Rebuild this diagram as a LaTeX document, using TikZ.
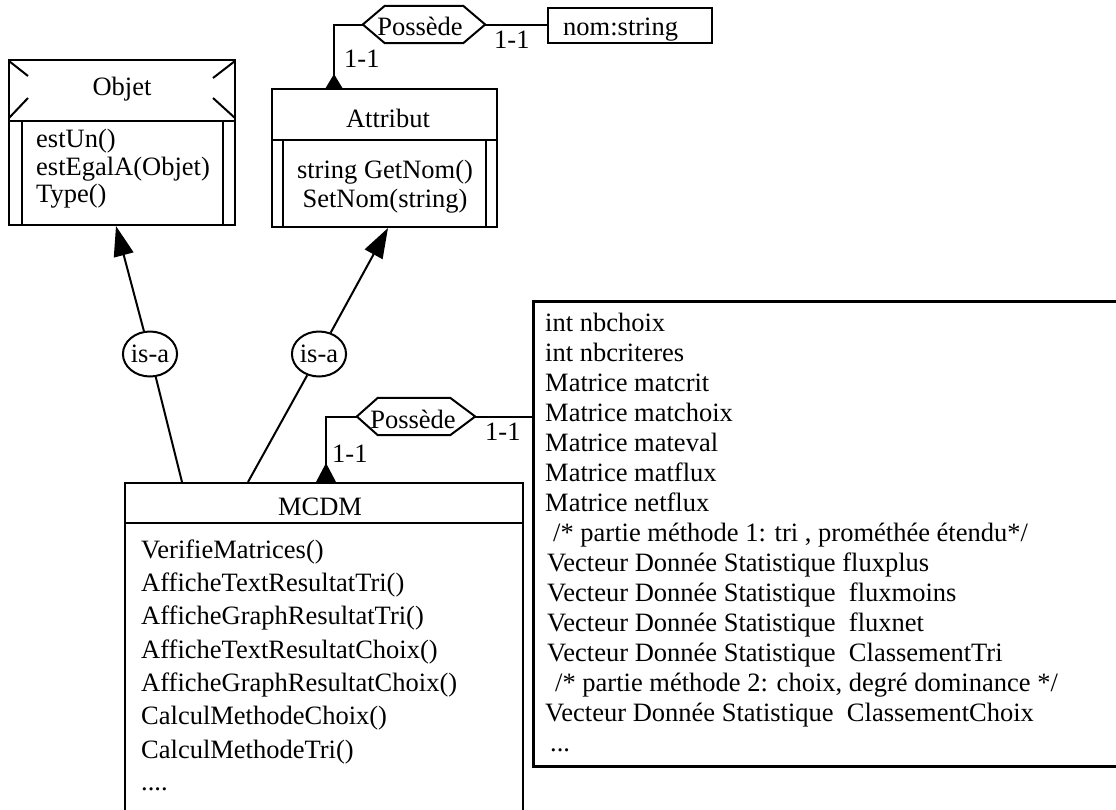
\documentclass[tikz,border=0pt]{standalone}
\usepackage{fontspec}
\setmainfont{Liberation Serif}
\usetikzlibrary{arrows.meta,shapes.geometric,calc}
\begin{document}
\begin{tikzpicture}[x=1pt,y=-1pt,
  font=\fontsize{26.5}{30}\selectfont,
  cls/.style={draw, line width=2.5pt, inner sep=0pt, rectangle},
  conn/.style={line width=2pt},
  isaarrow/.style={line width=2pt, -{Triangle[length=30pt,width=20pt]}},
  txt/.style={inner sep=0pt, anchor=base},
  txtl/.style={inner sep=0pt, anchor=base west},
  isa/.style={ellipse, draw, line width=2pt, fill=white, minimum width=52pt, minimum height=45pt, inner sep=0pt},
  hexbox/.style={inner sep=0pt, minimum width=#1, minimum height=37pt},
]
\useasboundingbox (0,0) rectangle (1116,809);
\clip (0,0) rectangle (1116,809);

% ---------- Objet ----------
\node[cls, minimum width=226pt, minimum height=165pt] (objet) at (122,142.5) {};
\draw[line width=2.5pt] (9,121) -- (235,121);
\draw[line width=2.5pt] (22,121) -- (22,225);
\draw[line width=2.5pt] (223,121) -- (223,225);
\draw[conn] (9,61) -- (28,76);
\draw[conn] (9,118) -- (28,98);
\draw[conn] (235,61) -- (213,78);
\draw[conn] (235,118) -- (213,98);
\node[txt] (objT) at (122,95) {Objet};
\node[txtl] (o1) at (36,147) {estUn()};
\node[txtl] (o2) at (36,175) {estEgalA(Objet)};
\node[txtl] (o3) at (36,202) {Type()};

% ---------- Attribut ----------
\node[cls, minimum width=225pt, minimum height=138pt] (attr) at (384.5,158) {};
\draw[line width=2.5pt] (272,140) -- (497,140);
\draw[line width=2.5pt] (283,140) -- (283,227);
\draw[line width=2.5pt] (486,140) -- (486,227);
\node[txt] (attrT) at (388,127) {Attribut};
\node[txt] (a1) at (385,178) {string GetNom()};
\node[txt] (a2) at (385,207) {SetNom(string)};

% ---------- nom:string ----------
\node[cls, minimum width=164pt, minimum height=35pt] (nom) at (630,25.5) {};
\node[txtl] (nomT) at (563,35) {nom:string};

% ---------- Possède (haut) ----------
\node[hexbox=122pt] (pos1) at (424,24.5) {};
\draw[conn] (pos1.west) -- ([xshift=22pt]pos1.north west) -- ([xshift=-22pt]pos1.north east)
  -- (pos1.east) -- ([xshift=-22pt]pos1.south east) -- ([xshift=22pt]pos1.south west) -- cycle;
\node[txt] (pos1T) at (420,35) {Possède};
\coordinate (attrP) at (334,89);
\draw[conn] (pos1.west) -| (attrP);
\fill (attrP) ++(-9,0) -- ++(9,-15) -- ++(9,15) -- cycle;
\draw[conn] (pos1.east) -- (pos1.east -| nom.west);
\node[txtl] (c1) at (344,67) {1-1};
\node[txtl] (c2) at (494,48) {1-1};

% ---------- MCDM ----------
\node[cls, minimum width=398pt, minimum height=357pt] (mcdm) at (324,661.5) {};
\draw[line width=2.5pt] (125,523) -- (523,523);
\node[txt] (mcdmT) at (320,515) {MCDM};
\node[txtl] (m1) at (141,558) {VerifieMatrices()};
\node[txtl] (m2) at (141,591.3) {AfficheTextResultatTri()};
\node[txtl] (m3) at (141,624.6) {AfficheGraphResultatTri()};
\node[txtl] (m4) at (141,658) {AfficheTextResultatChoix()};
\node[txtl] (m5) at (141,691.3) {AfficheGraphResultatChoix()};
\node[txtl] (m6) at (141,724.6) {CalculMethodeChoix()};
\node[txtl] (m7) at (141,758) {CalculMethodeTri()};
\node[txtl] (m8) at (141,790) {....};

% ---------- is-a ----------
\coordinate (mcdmA) at (182,482);
\coordinate (objIn) at (116,226);
\coordinate (mcdmB) at (248,482);
\coordinate (attrIn) at (388,228);
\node[isa] (isa1) at (150,354) {is-a};
\node[isa] (isa2) at (319,354) {is-a};
\draw[conn] (mcdmA) -- (isa1);
\draw[isaarrow] (isa1) -- (objIn);
\draw[conn] (mcdmB) -- (isa2);
\draw[isaarrow] (isa2) -- (attrIn);

% ---------- grande boite ----------
\node[cls, line width=3pt, minimum width=607pt, minimum height=465pt] (data) at (836.5,533.5) {};
\node[txtl] (d1) at (545,331) {int nbchoix};
\node[txtl] (d2) at (545,361) {int nbcriteres};
\node[txtl] (d3) at (545,391) {Matrice matcrit};
\node[txtl] (d4) at (545,421) {Matrice matchoix};
\node[txtl] (d5) at (545,451) {Matrice mateval};
\node[txtl] (d6) at (545,481) {Matrice matflux};
\node[txtl] (d7) at (545,511) {Matrice netflux};
\node[txtl] (d8) at (553,541) {/* partie méthode 1: tri , prométhée étendu*/};
\node[txtl] (d9) at (547,571) {Vecteur Donnée Statistique fluxplus};
\node[txtl] (d10) at (547,601) {Vecteur Donnée Statistique\ \ fluxmoins};
\node[txtl] (d11) at (547,631) {Vecteur Donnée Statistique\ \ fluxnet};
\node[txtl] (d12) at (547,661) {Vecteur Donnée Statistique\ \ ClassementTri};
\node[txtl] (d13) at (555,691) {/* partie méthode 2: choix, degré dominance */};
\node[txtl] (d14) at (545,721) {Vecteur Donnée Statistique\ \ ClassementChoix};
\node[txtl] (d15) at (550,751) {...};

% ---------- Possède (bas) ----------
\node[hexbox=118pt] (pos2) at (416,416.5) {};
\draw[conn] (pos2.west) -- ([xshift=21pt]pos2.north west) -- ([xshift=-25pt]pos2.north east)
  -- (pos2.east) -- ([xshift=-25pt]pos2.south east) -- ([xshift=21pt]pos2.south west) -- cycle;
\node[txt] (pos2T) at (413,428) {Possède};
\coordinate (mcdmP) at (326,482);
\draw[conn] (pos2.west) -| (mcdmP);
\fill (mcdmP) ++(-10,0) -- ++(10,-19) -- ++(10,19) -- cycle;
\draw[conn] (pos2.east) -- (pos2.east -| data.west);
\node[txtl] (c3) at (332,462) {1-1};
\node[txtl] (c4) at (485,440) {1-1};
\end{tikzpicture}
\end{document}
